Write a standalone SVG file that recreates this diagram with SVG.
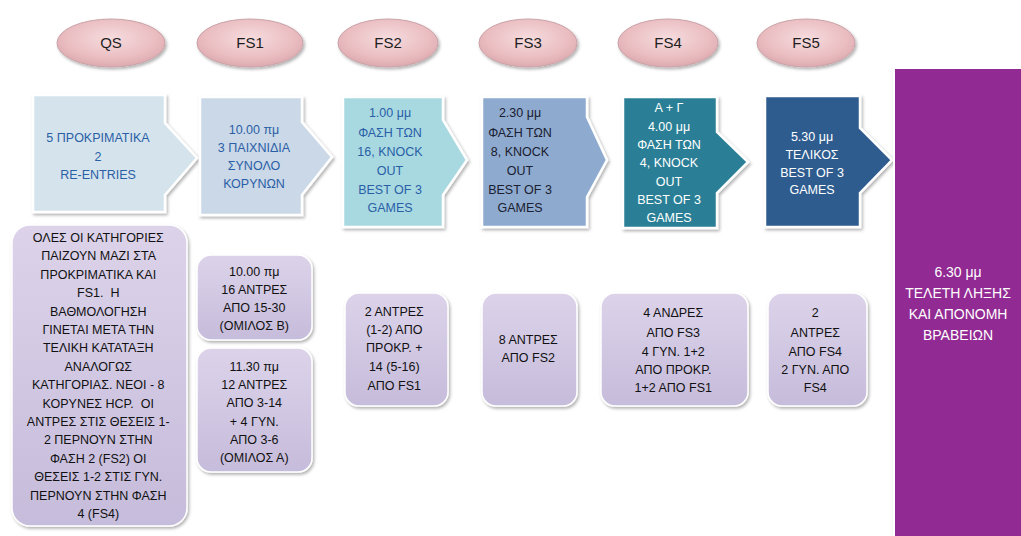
<svg xmlns="http://www.w3.org/2000/svg" width="1021" height="536" viewBox="0 0 1021 536">
<defs>
<radialGradient id="oval" cx="50%" cy="40%" r="60%">
<stop offset="0" stop-color="#f6dcde"/>
<stop offset="0.7" stop-color="#eabdc1"/>
<stop offset="1" stop-color="#dcaab0"/>
</radialGradient>
<linearGradient id="lav" x1="0" y1="0" x2="0" y2="1">
<stop offset="0" stop-color="#dcd3ea"/>
<stop offset="1" stop-color="#c6bcdb"/>
</linearGradient>
<filter id="sh" x="-10%" y="-10%" width="125%" height="125%">
<feDropShadow dx="1.5" dy="2" stdDeviation="1.8" flood-color="#000" flood-opacity="0.3"/>
</filter>
</defs>
<style>
text{white-space:pre}
.ov{fill:url(#oval);stroke:#c9a3a8;stroke-width:1;filter:url(#sh)}
.ovt{font-family:"Liberation Sans",Arial,sans-serif;font-size:15px;fill:#1e1e1e;text-anchor:middle}
.ch{stroke:#ffffff;stroke-width:2.5;filter:url(#sh)}
.t{font-family:"Liberation Sans",Arial,sans-serif;font-size:12.5px;text-anchor:middle}
.blue{fill:#2a5fa6}
.dark{fill:#1a2030}
.wh{fill:#ffffff}
.bx{fill:url(#lav);stroke:#ffffff;stroke-width:1.5;filter:url(#sh)}
.bt{font-family:"Liberation Sans",Arial,sans-serif;font-size:12.5px;text-anchor:middle;fill:#111}
</style>
<rect width="1021" height="536" fill="#ffffff"/>

<g id="stage-labels">
<g id="oval-qs"><ellipse class="ov" cx="111" cy="43" rx="54" ry="24"/><text class="ovt" x="111" y="48">QS</text></g>
<g id="oval-fs1"><ellipse class="ov" cx="250" cy="43" rx="53" ry="24"/><text class="ovt" x="250" y="48">FS1</text></g>
<g id="oval-fs2"><ellipse class="ov" cx="388" cy="43" rx="50" ry="24"/><text class="ovt" x="388" y="48">FS2</text></g>
<g id="oval-fs3"><ellipse class="ov" cx="528" cy="43" rx="49" ry="24"/><text class="ovt" x="528" y="48">FS3</text></g>
<g id="oval-fs4"><ellipse class="ov" cx="668" cy="43" rx="50" ry="24"/><text class="ovt" x="668" y="48">FS4</text></g>
<g id="oval-fs5"><ellipse class="ov" cx="806" cy="43" rx="49" ry="24"/><text class="ovt" x="806" y="48">FS5</text></g>
</g>

<g id="connectors"></g>

<g id="chevron-qs">
<path class="ch" fill="#d5e3ec" d="M33,95 H165 V123 L197,158 L165,195 V212 H33 Z"/>
<text class="t blue" x="98" y="142">5 ΠΡΟΚΡΙΜΑΤΙΚΑ</text>
<text class="t blue" x="98" y="161">2</text>
<text class="t blue" x="98" y="179">RE-ENTRIES</text>
</g>
<g id="chevron-fs1">
<path class="ch" fill="#cad8e7" d="M200,97 H302 V122 L332,157 L302,195 V215 H200 Z"/>
<text class="t blue" x="254" y="134">10.00 πμ</text>
<text class="t blue" x="254" y="152">3 ΠΑΙΧΝΙΔΙΑ</text>
<text class="t blue" x="254" y="170">ΣΥΝΟΛΟ</text>
<text class="t blue" x="254" y="188">ΚΟΡΥΝΩΝ</text>
</g>
<g id="chevron-fs2">
<path class="ch" fill="#a8d9e1" d="M343,97 H443 V120 L467,160 L443,195 V227 H343 Z"/>
<text class="t blue" x="390" y="117">1.00 μμ</text>
<text class="t blue" x="390" y="137">ΦΑΣΗ ΤΩΝ</text>
<text class="t blue" x="390" y="156">16, KNOCK</text>
<text class="t blue" x="390" y="175">OUT</text>
<text class="t blue" x="390" y="194">BEST OF 3</text>
<text class="t blue" x="390" y="212">GAMES</text>
</g>
<g id="chevron-fs3">
<path class="ch" fill="#8eaacf" d="M482,97 H587 V117 L607,160 L587,197 V227 H482 Z"/>
<text class="t dark" x="520" y="117">2.30 μμ</text>
<text class="t dark" x="520" y="137">ΦΑΣΗ ΤΩΝ</text>
<text class="t dark" x="520" y="156">8, KNOCK</text>
<text class="t dark" x="520" y="175">OUT</text>
<text class="t dark" x="520" y="194">BEST OF 3</text>
<text class="t dark" x="520" y="212">GAMES</text>
</g>
<g id="chevron-fs4">
<path class="ch" fill="#2a7f96" d="M623,97 H717 V132 L748,162 L717,193 V228 H623 Z"/>
<text class="t wh" x="669" y="112">Α + Γ</text>
<text class="t wh" x="669" y="131">4.00 μμ</text>
<text class="t wh" x="669" y="149">ΦΑΣΗ ΤΩΝ</text>
<text class="t wh" x="669" y="167">4, KNOCK</text>
<text class="t wh" x="669" y="186">OUT</text>
<text class="t wh" x="669" y="204">BEST OF 3</text>
<text class="t wh" x="669" y="222">GAMES</text>
</g>
<g id="chevron-fs5">
<path class="ch" fill="#2e5b8f" d="M765,96 H860 V128 L892,160 L860,193 V227 H765 Z"/>
<text class="t wh" x="812" y="141">5.30 μμ</text>
<text class="t wh" x="812" y="159">ΤΕΛΙΚΟΣ</text>
<text class="t wh" x="812" y="177">BEST OF 3</text>
<text class="t wh" x="812" y="194">GAMES</text>
</g>

<g id="ceremony">
<rect x="894" y="68" width="140" height="480" fill="#922b93" stroke="#ffffff" stroke-width="2" filter="url(#sh)"/>
<text font-family="'Liberation Sans',Arial,sans-serif" font-size="14" fill="#ffffff" text-anchor="middle">
<tspan x="960" y="277">6.30 μμ</tspan>
<tspan x="960" y="298">ΤΕΛΕΤΗ ΛΗΞΗΣ</tspan>
<tspan x="960" y="319">ΚΑΙ ΑΠΟΝΟΜΗ</tspan>
<tspan x="960" y="340">ΒΡΑΒΕΙΩΝ</tspan>
</text>
</g>

<g id="box-qs">
<rect class="bx" x="12" y="225" width="175" height="301" rx="18"/>
<text class="bt">
<tspan x="100" y="242">ΟΛΕΣ ΟΙ ΚΑΤΗΓΟΡΙΕΣ</tspan>
<tspan x="100" y="260.4">ΠΑΙΖΟΥΝ ΜΑΖΙ ΣΤΑ</tspan>
<tspan x="100" y="278.8">ΠΡΟΚΡΙΜΑΤΙΚΑ ΚΑΙ</tspan>
<tspan x="100" y="297.2">FS1.  Η</tspan>
<tspan x="100" y="315.6">ΒΑΘΜΟΛΟΓΗΣΗ</tspan>
<tspan x="100" y="334">ΓΙΝΕΤΑΙ ΜΕΤΑ ΤΗΝ</tspan>
<tspan x="100" y="352.4">ΤΕΛΙΚΗ ΚΑΤΑΤΑΞΗ</tspan>
<tspan x="100" y="370.8">ΑΝΑΛΟΓΩΣ</tspan>
<tspan x="100" y="389.2">ΚΑΤΗΓΟΡΙΑΣ. ΝΕΟΙ - 8</tspan>
<tspan x="100" y="407.6">ΚΟΡΥΝΕΣ HCP.  ΟΙ</tspan>
<tspan x="100" y="426">ΑΝΤΡΕΣ ΣΤΙΣ ΘΕΣΕΙΣ 1-</tspan>
<tspan x="100" y="444.4">2 ΠΕΡΝΟΥΝ ΣΤΗΝ</tspan>
<tspan x="100" y="462.8">ΦΑΣΗ 2 (FS2) ΟΙ</tspan>
<tspan x="100" y="481.2">ΘΕΣΕΙΣ 1-2 ΣΤΙΣ ΓΥΝ.</tspan>
<tspan x="100" y="499.6">ΠΕΡΝΟΥΝ ΣΤΗΝ ΦΑΣΗ</tspan>
<tspan x="100" y="518">4 (FS4)</tspan>
</text>
</g>

<g id="box-fs1-b">
<rect class="bx" x="197" y="255" width="115" height="85" rx="14"/>
<text class="bt">
<tspan x="256" y="276">10.00 πμ</tspan>
<tspan x="256" y="294">16 ΑΝΤΡΕΣ</tspan>
<tspan x="256" y="312">ΑΠΟ 15-30</tspan>
<tspan x="256" y="330">(ΟΜΙΛΟΣ Β)</tspan>
</text>
</g>

<g id="box-fs1-a">
<rect class="bx" x="197" y="348" width="115" height="124" rx="14"/>
<text class="bt">
<tspan x="256" y="371">11.30 πμ</tspan>
<tspan x="256" y="389">12 ΑΝΤΡΕΣ</tspan>
<tspan x="256" y="407">ΑΠΟ 3-14</tspan>
<tspan x="256" y="426">+ 4 ΓΥΝ.</tspan>
<tspan x="256" y="444">ΑΠΟ 3-6</tspan>
<tspan x="256" y="462">(ΟΜΙΛΟΣ Α)</tspan>
</text>
</g>

<g id="box-fs2">
<rect class="bx" x="345" y="293" width="103" height="113" rx="14"/>
<text class="bt">
<tspan x="396" y="316">2 ΑΝΤΡΕΣ</tspan>
<tspan x="396" y="334">(1-2) ΑΠΟ</tspan>
<tspan x="396" y="352">ΠΡΟΚΡ. +</tspan>
<tspan x="396" y="371">14 (5-16)</tspan>
<tspan x="396" y="390">ΑΠΟ FS1</tspan>
</text>
</g>

<g id="box-fs3">
<rect class="bx" x="482" y="293" width="95" height="113" rx="14"/>
<text class="bt">
<tspan x="530" y="344">8 ΑΝΤΡΕΣ</tspan>
<tspan x="530" y="362">ΑΠΟ FS2</tspan>
</text>
</g>

<g id="box-fs4">
<rect class="bx" x="601" y="293" width="147" height="113" rx="14"/>
<text class="bt">
<tspan x="675" y="317">4 ΑΝΔΡΕΣ</tspan>
<tspan x="675" y="337">ΑΠΟ FS3</tspan>
<tspan x="675" y="356">4 ΓΥΝ. 1+2</tspan>
<tspan x="675" y="374">ΑΠΟ ΠΡΟΚΡ.</tspan>
<tspan x="675" y="392">1+2 ΑΠΟ FS1</tspan>
</text>
</g>

<g id="box-fs5">
<rect class="bx" x="768" y="293" width="99" height="113" rx="14"/>
<text class="bt">
<tspan x="817" y="317">2</tspan>
<tspan x="817" y="337">ΑΝΤΡΕΣ</tspan>
<tspan x="817" y="356">ΑΠΟ FS4</tspan>
<tspan x="817" y="374">2 ΓΥΝ. ΑΠΟ</tspan>
<tspan x="817" y="392">FS4</tspan>
</text>
</g>
</svg>
